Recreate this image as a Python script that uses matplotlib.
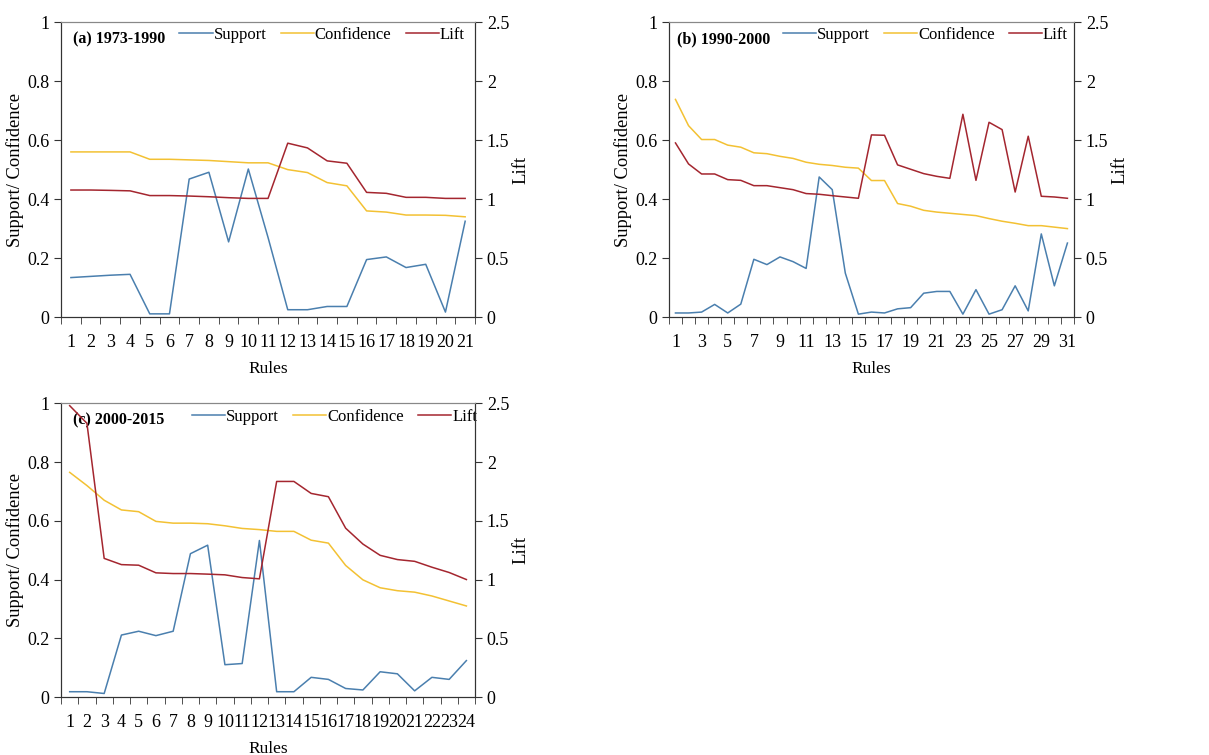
import matplotlib
matplotlib.use('Agg')
import matplotlib.pyplot as plt
from matplotlib.ticker import MultipleLocator, FuncFormatter

plt.rcParams['font.family'] = ['Liberation Serif', 'DejaVu Serif']
plt.rcParams['font.size'] = 12.5

# (a) 1973-1990
support_a = [0.134, 0.138, 0.142, 0.145, 0.011, 0.011, 0.468, 0.491, 0.255, 0.502, 0.27,
             0.025, 0.025, 0.036, 0.036, 0.195, 0.204, 0.168, 0.179, 0.017, 0.325]
confidence_a = [0.56, 0.56, 0.56, 0.56, 0.535, 0.535, 0.533, 0.531, 0.527, 0.523, 0.523,
                0.50, 0.49, 0.456, 0.445, 0.36, 0.356, 0.346, 0.346, 0.345, 0.34]
lift_a = [1.077, 1.077, 1.074, 1.07, 1.03, 1.03, 1.026, 1.02, 1.012, 1.006, 1.006,
          1.474, 1.434, 1.324, 1.304, 1.057, 1.049, 1.015, 1.015, 1.006, 1.006]

# (b) 1990-2000
support_b = [0.014, 0.014, 0.017, 0.043, 0.014, 0.044, 0.196, 0.178, 0.204, 0.188, 0.165,
             0.475, 0.432, 0.149, 0.010, 0.017, 0.014, 0.028, 0.032, 0.081, 0.087,
             0.087, 0.010, 0.093, 0.010, 0.025, 0.106, 0.021, 0.282, 0.106, 0.251]
confidence_b = [0.738, 0.649, 0.602, 0.602, 0.583, 0.576, 0.557, 0.554, 0.545, 0.538, 0.525,
                0.518, 0.514, 0.508, 0.505, 0.463, 0.463, 0.385, 0.376, 0.362, 0.356,
                0.352, 0.348, 0.344, 0.334, 0.325, 0.318, 0.31, 0.31, 0.305, 0.30]
lift_b = [1.476, 1.298, 1.213, 1.213, 1.165, 1.159, 1.114, 1.114, 1.097, 1.080, 1.047,
          1.041, 1.029, 1.018, 1.007, 1.544, 1.541, 1.29, 1.253, 1.216, 1.193,
          1.176, 1.719, 1.159, 1.651, 1.589, 1.06, 1.533, 1.024, 1.018, 1.007]

# (c) 2000-2015
support_c = [0.018, 0.018, 0.012, 0.211, 0.224, 0.209, 0.224, 0.488, 0.517, 0.11, 0.114, 0.533,
             0.018, 0.018, 0.067, 0.06, 0.029, 0.024, 0.086, 0.079, 0.021, 0.067, 0.06, 0.124]
confidence_c = [0.765, 0.72, 0.67, 0.637, 0.631, 0.598, 0.592, 0.592, 0.59, 0.583, 0.574, 0.57,
                0.564, 0.564, 0.534, 0.524, 0.448, 0.399, 0.372, 0.362, 0.357, 0.344, 0.327, 0.31]
lift_c = [2.48, 2.33, 1.18, 1.127, 1.122, 1.057, 1.051, 1.051, 1.046, 1.04, 1.017, 1.006,
          1.835, 1.835, 1.733, 1.705, 1.437, 1.302, 1.206, 1.17, 1.155, 1.105, 1.06, 1.0]

C_SUP = '#4a7fae'
C_CONF = '#f3c133'
C_LIFT = '#a4262f'


def fmt(v, pos):
    return ('%g' % round(v, 2))


def draw_panel(ax, support, confidence, lift, title, step, title_x, leg_x):
    n = len(support)
    rules = list(range(1, n + 1))
    ax2 = ax.twinx()
    l1, = ax.plot(rules, support, color=C_SUP, lw=1.1, label='Support')
    l2, = ax.plot(rules, confidence, color=C_CONF, lw=1.1, label='Confidence')
    l3, = ax2.plot(rules, lift, color=C_LIFT, lw=1.1, label='Lift')

    ax.set_xlim(0.5, n + 0.5)
    ax.set_ylim(0, 1)
    ax2.set_ylim(0, 2.5)
    ax.yaxis.set_major_locator(MultipleLocator(0.2))
    ax2.yaxis.set_major_locator(MultipleLocator(0.5))
    ax.yaxis.set_major_formatter(FuncFormatter(fmt))
    ax2.yaxis.set_major_formatter(FuncFormatter(fmt))

    ax.set_xticks(rules[::step])
    ax.set_xticklabels([str(r) for r in rules[::step]])
    ax.set_xticks([r + 0.5 for r in range(0, n + 1)], minor=True)
    ax.tick_params(axis='x', which='major', length=0, pad=12, labelsize=13)
    ax.tick_params(axis='x', which='minor', length=5, direction='out', color='#333333')
    ax.tick_params(axis='y', length=5, direction='out', color='#333333', labelsize=13)
    ax2.tick_params(axis='y', length=5, direction='out', color='#333333', labelsize=13)

    for a in (ax, ax2):
        for s in ('left', 'right', 'bottom'):
            a.spines[s].set_color('#333333')
        a.spines['top'].set_color('#888888')

    ax.set_xlabel('Rules', labelpad=7.5, fontsize=12.5)
    ax.set_ylabel('Support/ Confidence', labelpad=2, fontsize=13.3)
    ax2.set_ylabel('Lift', labelpad=2, fontsize=13.5)

    ax.text(title_x, 0.942, title, transform=ax.transAxes, fontsize=11.5,
            fontweight='bold', va='center', ha='left')
    ax.legend(handles=[l1, l2, l3], loc='upper left', bbox_to_anchor=(leg_x, 1.005),
              ncol=3, frameon=False, fontsize=12, handlelength=2.0, handletextpad=0.05,
              columnspacing=0.85, borderaxespad=0.0)
    return ax2


fig = plt.figure(figsize=(12.09, 7.55), dpi=100)
ax_a = fig.add_axes([0.0505, 0.580, 0.3424, 0.3907])
ax_b = fig.add_axes([0.5533, 0.580, 0.335, 0.3907])
ax_c = fig.add_axes([0.0505, 0.0768, 0.3424, 0.389])

draw_panel(ax_a, support_a, confidence_a, lift_a, '(a) 1973-1990', 1, 0.029, 0.27)
draw_panel(ax_b, support_b, confidence_b, lift_b, '(b) 1990-2000', 2, 0.02, 0.264)
draw_panel(ax_c, support_c, confidence_c, lift_c, '(c) 2000-2015', 1, 0.029, 0.30)

fig.savefig('out.png', dpi=100)
